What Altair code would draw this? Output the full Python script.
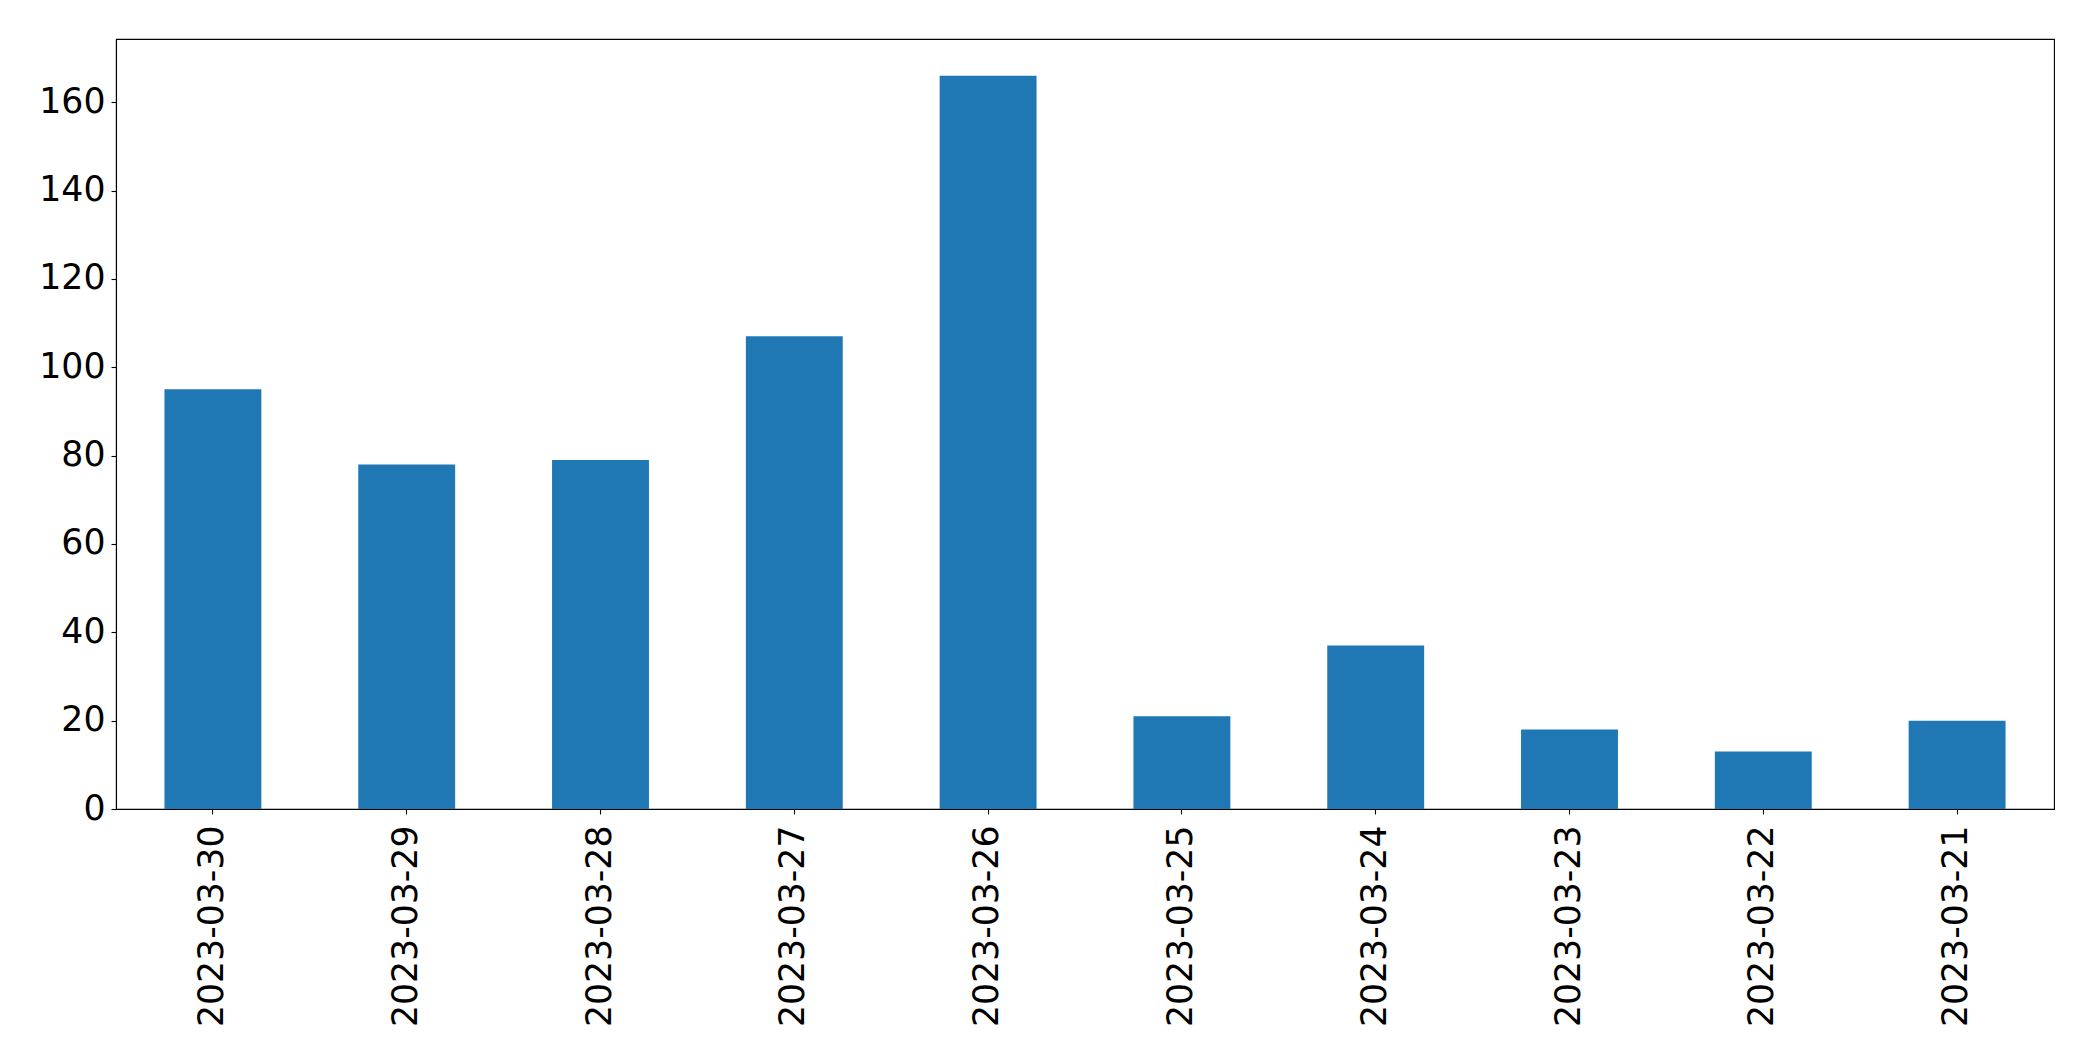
import altair as alt
import pandas as pd

dates = ["2023-03-30", "2023-03-29", "2023-03-28", "2023-03-27", "2023-03-26",
         "2023-03-25", "2023-03-24", "2023-03-23", "2023-03-22", "2023-03-21"]
counts = [95, 78, 79, 107, 166, 21, 37, 18, 13, 20]
y_ticks = [0, 20, 40, 60, 80, 100, 120, 140, 160]

df = pd.DataFrame({"date": dates, "count": counts})

FONT = "DejaVu Sans"
FS = 34.7

chart = alt.Chart(df).mark_bar(color="#1f77b4").encode(
    x=alt.X("date:N", sort=dates, title=None,
            scale=alt.Scale(paddingInner=0.5, paddingOuter=0.25),
            axis=alt.Axis(labelAngle=-90, labelFontSize=FS, labelFont=FONT,
                          labelColor="black", tickColor="black", tickSize=5,
                          tickWidth=1.1, labelPadding=11, domainColor="black",
                          domainWidth=1.1, grid=False, labelBaseline="middle",
                          labelAlign="right", labelLimit=0, labelOverlap=False)),
    y=alt.Y("count:Q", title=None,
            scale=alt.Scale(domain=[0, 174.3], nice=False, zero=True),
            axis=alt.Axis(values=y_ticks, labelFontSize=FS, labelFont=FONT,
                          labelColor="black", tickColor="black", tickSize=5,
                          tickWidth=1.1, labelPadding=6, domainColor="black",
                          domainWidth=1.1, grid=False, labelLimit=0)),
).properties(
    width=1938, height=770,
    background="white",
    autosize=alt.AutoSizeParams(type="none"),
    padding={"left": 108, "top": 31, "right": 30, "bottom": 240},
).configure_view(
    stroke="black", strokeWidth=1.1
)

chart.save("out.html", embed_options={"renderer": "svg", "actions": False})
